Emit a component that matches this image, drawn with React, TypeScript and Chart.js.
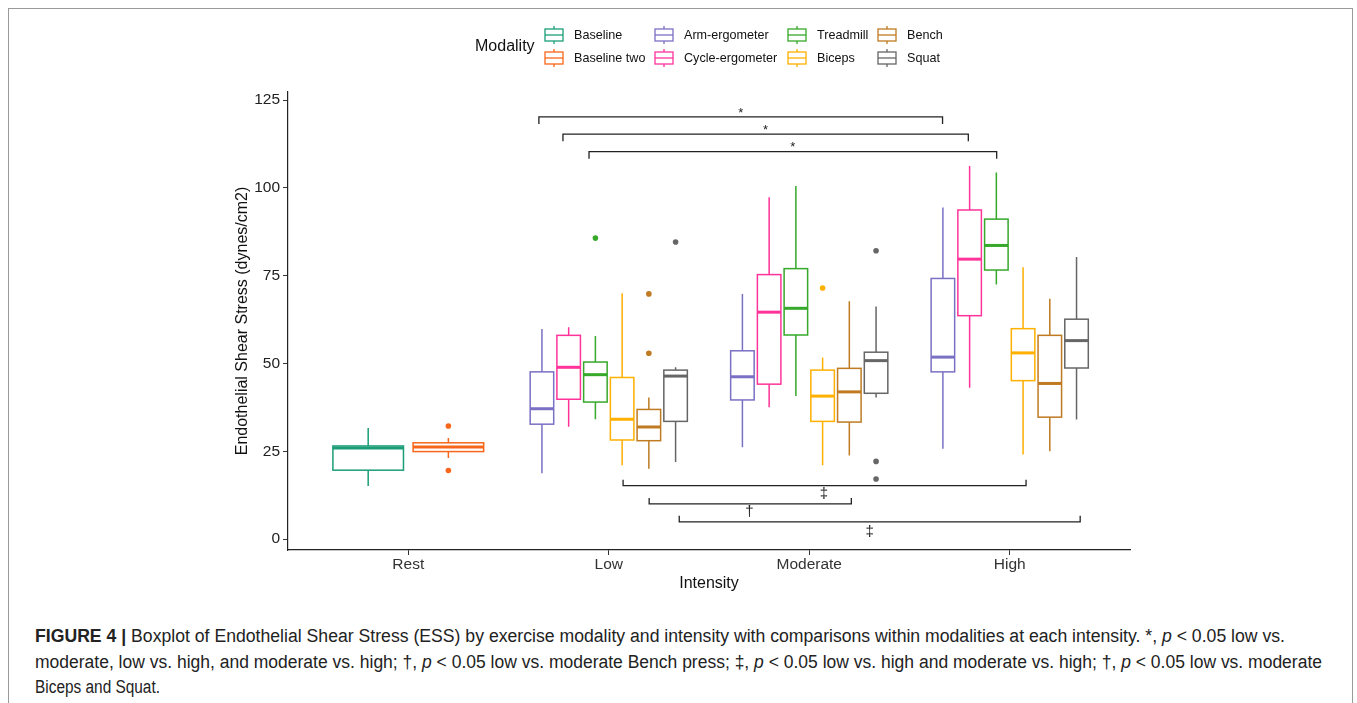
import React, { useEffect, useLayoutEffect, useRef } from 'react';
import { Chart, registerables } from 'chart.js';

Chart.register(...registerables);

// ---------------- data ----------------
const intensities = ['Rest', 'Low', 'Moderate', 'High'];
const modalities = ['Baseline', 'Baseline two', 'Arm-ergometer', 'Cycle-ergometer', 'Treadmill', 'Biceps', 'Bench', 'Squat'];
const colors = ['#1b9e77', '#f7661a', '#7a70c4', '#ff3399', '#36a82a', '#ffb000', '#bf7a22', '#666666'];
const yTicks = [0, 25, 50, 75, 100, 125];

// [lower whisker, Q1, median, Q3, upper whisker] for Rest, Low, Moderate, High
const baseline = [[15.1, 19.6, 25.9, 26.5, 31.6], null, null, null];
const baselineTwo = [[23.1, 24.9, 26.2, 27.4, 28.8], null, null, null];
const armErgometer = [null, [18.7, 32.7, 37.1, 47.6, 59.8], [26.1, 39.6, 46.2, 53.6, 69.8], [25.7, 47.6, 51.8, 74.2, 94.4]];
const cycleErgometer = [null, [32.0, 39.8, 48.9, 58.0, 60.3], [37.5, 44.1, 64.6, 75.3, 97.3], [43.1, 63.6, 79.7, 93.7, 106.2]];
const treadmill = [null, [34.1, 39.0, 46.8, 50.4, 57.8], [40.7, 58.1, 65.7, 77.0, 100.5], [72.5, 76.6, 83.6, 91.1, 104.4]];
const biceps = [null, [21.0, 28.2, 34.1, 46.0, 70.0], [21.0, 33.5, 40.7, 48.1, 51.7], [24.1, 45.1, 53.0, 59.9, 77.4]];
const bench = [null, [20.0, 28.0, 31.9, 36.9, 40.3], [23.8, 33.3, 41.9, 48.6, 67.7], [25.0, 34.7, 44.3, 58.0, 68.4]];
const squat = [null, [21.9, 33.5, 46.4, 48.1, 48.9], [40.3, 41.5, 50.8, 53.2, 66.2], [34.0, 48.7, 56.5, 62.6, 80.3]];

// outliers for Rest, Low, Moderate, High
const baselineOut = [[], [], [], []];
const baselineTwoOut = [[32.2, 19.5], [], [], []];
const armErgometerOut = [[], [], [], []];
const cycleErgometerOut = [[], [], [], []];
const treadmillOut = [[], [85.7], [], []];
const bicepsOut = [[], [], [71.5], []];
const benchOut = [[], [69.8, 52.9], [], []];
const squatOut = [[], [84.6], [82.1, 22.1, 17.1], []];

// significance brackets (x in intensity units, y in dynes/cm2)
const bracketFrom = [0.6515, 0.7715, 0.9015, 1.0715, 1.2015, 1.3515];
const bracketTo = [2.665, 2.7935, 2.935, 3.0815, 2.21, 3.3515];
const bracketY = [120.2, 115.3, 110.3, 15.2, 10.0, 4.9];
const bracketLabel = ['*', '*', '*', '‡', '†', '‡'];
const bracketLabelX = [1.658, 1.782, 1.918, 2.073, 1.702, 2.302];

const series = [baseline, baselineTwo, armErgometer, cycleErgometer, treadmill, biceps, bench, squat];
const outliers = [baselineOut, baselineTwoOut, armErgometerOut, cycleErgometerOut, treadmillOut, bicepsOut, benchOut, squatOut];

// ---------------- layout (pixels) ----------------
const FONT = '"Liberation Sans", Arial, Helvetica, sans-serif';
const legendKeyLeft = [545, 655, 788, 878];
const legendRowY = [35, 58];
const captionLineWidths = [1250, 1287, 125];

function dodge(m: number, i: number) {
  const present = series.map((s, k) => (s[i] ? k : -1)).filter((k) => k >= 0);
  const n = present.length;
  const j = present.indexOf(m);
  const slot = 0.8 / n;
  return { x: i + (j - (n - 1) / 2) * slot, half: slot * 0.44 };
}

const boxPlugin = {
  id: 'boxes',
  beforeDatasetsDraw(chart: any) {
    const ctx = chart.ctx;
    const xs = chart.scales.x;
    const ys = chart.scales.y;
    ctx.save();
    series.forEach((s, m) => {
      s.forEach((st: number[] | null, i: number) => {
        if (!st) return;
        const d = dodge(m, i);
        const cx = xs.getPixelForValue(d.x);
        const l = xs.getPixelForValue(d.x - d.half);
        const r = xs.getPixelForValue(d.x + d.half);
        const [lo, q1, med, q3, hi] = st.map((v) => ys.getPixelForValue(v));
        ctx.strokeStyle = colors[m];
        ctx.lineWidth = 1.5;
        ctx.beginPath();
        ctx.moveTo(cx, lo);
        ctx.lineTo(cx, q1);
        ctx.moveTo(cx, q3);
        ctx.lineTo(cx, hi);
        ctx.stroke();
        ctx.fillStyle = '#ffffff';
        ctx.fillRect(l, q3, r - l, q1 - q3);
        ctx.strokeRect(l, q3, r - l, q1 - q3);
        ctx.lineWidth = 3;
        ctx.beginPath();
        ctx.moveTo(l, med);
        ctx.lineTo(r, med);
        ctx.stroke();
      });
    });
    ctx.restore();
  },
  afterDraw(chart: any) {
    const ctx = chart.ctx;
    const xs = chart.scales.x;
    const ys = chart.scales.y;
    ctx.save();
    // brackets
    ctx.strokeStyle = '#222';
    ctx.fillStyle = '#222';
    ctx.lineWidth = 1.3;
    bracketY.forEach((yv, k) => {
      const x1 = xs.getPixelForValue(bracketFrom[k]);
      const x2 = xs.getPixelForValue(bracketTo[k]);
      const y = ys.getPixelForValue(yv);
      const top = yv > 60;
      const tick = top ? 7 : -6;
      ctx.beginPath();
      ctx.moveTo(x1, y + tick);
      ctx.lineTo(x1, y);
      ctx.lineTo(x2, y);
      ctx.lineTo(x2, y + tick);
      ctx.stroke();
      const lx = xs.getPixelForValue(bracketLabelX[k]);
      ctx.textAlign = 'center';
      ctx.textBaseline = 'middle';
      if (top) {
        ctx.font = `13px ${FONT}`;
        ctx.fillText(bracketLabel[k], lx, y - 4);
      } else {
        ctx.font = `15px ${FONT}`;
        ctx.fillText(bracketLabel[k], lx, y + (k === 5 ? 10 : 8));
      }
    });
    // legend
    ctx.fillStyle = '#111';
    ctx.textAlign = 'left';
    ctx.textBaseline = 'middle';
    ctx.font = `16px ${FONT}`;
    ctx.fillText('Modality', 475, 47);
    ctx.font = `12.6px ${FONT}`;
    modalities.forEach((name, m) => {
      const col = Math.floor(m / 2);
      const row = m % 2;
      const kx = legendKeyLeft[col];
      const ky = legendRowY[row];
      ctx.strokeStyle = colors[m];
      ctx.lineWidth = 1.3;
      ctx.beginPath();
      ctx.moveTo(kx + 9, ky - 9);
      ctx.lineTo(kx + 9, ky - 6);
      ctx.moveTo(kx + 9, ky + 6);
      ctx.lineTo(kx + 9, ky + 9);
      ctx.stroke();
      ctx.strokeRect(kx, ky - 6, 18, 12);
      ctx.beginPath();
      ctx.moveTo(kx, ky);
      ctx.lineTo(kx + 18, ky);
      ctx.stroke();
      ctx.fillStyle = '#111';
      ctx.fillText(name, kx + 29, ky + 0.5);
    });
    ctx.restore();
  },
};

export default function App() {
  const ref = useRef<HTMLCanvasElement>(null);
  const lineRefs = [useRef<HTMLSpanElement>(null), useRef<HTMLSpanElement>(null), useRef<HTMLSpanElement>(null)];

  useLayoutEffect(() => {
    lineRefs.forEach((r, k) => {
      const el = r.current;
      if (!el) return;
      el.style.transform = 'none';
      const w = el.getBoundingClientRect().width;
      if (w > 0) el.style.transform = `scaleX(${captionLineWidths[k] / w})`;
    });
  }, []);

  useEffect(() => {
    const canvas = ref.current;
    if (!canvas) return;
    Chart.defaults.font.family = FONT;
    const datasets = modalities.map((name, m) => ({
      label: name,
      data: outliers[m].flatMap((vals: number[], i: number) =>
        vals.map((v) => ({ x: dodge(m, i).x, y: v }))
      ),
      backgroundColor: colors[m],
      borderColor: colors[m],
      borderWidth: 0,
      pointRadius: 2.8,
    }));
    const axisCommon = {
      grid: { display: true, drawOnChartArea: false, drawTicks: true, tickLength: 5, color: '#333', lineWidth: 1 },
      border: { display: true, color: '#222', width: 1.2 },
    };
    const chart = new Chart(canvas, {
      type: 'scatter',
      data: { datasets },
      options: {
        animation: false,
        responsive: false,
        devicePixelRatio: 1,
        layout: { padding: { left: 229, top: 92, right: 227, bottom: 3 } },
        plugins: { legend: { display: false }, tooltip: { enabled: false } },
        scales: {
          x: {
            type: 'linear',
            min: -0.6,
            max: 3.6,
            afterBuildTicks: (s: any) => {
              s.ticks = intensities.map((_, i) => ({ value: i }));
            },
            afterFit: (s: any) => {
              s.height = 47;
            },
            ticks: {
              callback: (v: any) => intensities[v] ?? '',
              font: { size: 15.5 },
              color: '#333',
              padding: 0,
              maxRotation: 0,
              autoSkip: false,
            },
            ...axisCommon,
            title: { display: true, text: 'Intensity', font: { size: 16 }, color: '#111', padding: { top: 4, bottom: 4 } },
          },
          y: {
            type: 'linear',
            min: -3.13,
            max: 127.3,
            afterBuildTicks: (s: any) => {
              s.ticks = yTicks.map((v) => ({ value: v }));
            },
            afterFit: (s: any) => {
              s.width = 59;
            },
            ticks: { font: { size: 15.5 }, color: '#222', padding: 3 },
            ...axisCommon,
            title: {
              display: true,
              text: 'Endothelial Shear Stress (dynes/cm2)',
              font: { size: 16 },
              color: '#111',
              padding: { top: 4, bottom: 4 },
            },
          },
        },
      },
      plugins: [boxPlugin],
    } as any);
    return () => chart.destroy();
  }, []);

  const lineStyle: React.CSSProperties = {
    display: 'inline-block',
    transformOrigin: 'left center',
    whiteSpace: 'nowrap',
  };

  return (
    <div style={{ position: 'fixed', left: 0, top: 0, width: 1357, height: 703, overflow: 'hidden', background: '#fff' }}>
      <div
        style={{
          position: 'absolute',
          left: 8,
          top: 8,
          width: 1345,
          height: 720,
          border: '1px solid #9a9a9a',
          boxSizing: 'border-box',
        }}
      />
      <canvas
        ref={ref}
        width={1357}
        height={600}
        style={{ position: 'absolute', left: 0, top: 0, width: 1357, height: 600 }}
      />
      <div
        style={{
          position: 'absolute',
          left: 35,
          top: 624,
          width: 1600,
          fontFamily: '"Liberation Sans Narrow", "Arial Narrow", "Liberation Sans", sans-serif',
          fontSize: 18,
          lineHeight: '25.5px',
          color: '#222',
          whiteSpace: 'nowrap',
        }}
      >
        <span ref={lineRefs[0]} style={lineStyle}>
          <b>FIGURE 4 |</b> Boxplot of Endothelial Shear Stress (ESS) by exercise modality and intensity with
          comparisons within modalities at each intensity. *, <i>p</i> &lt; 0.05 low vs.
        </span>
        <br />
        <span ref={lineRefs[1]} style={lineStyle}>
          moderate, low vs. high, and moderate vs. high; †, <i>p</i> &lt; 0.05 low vs. moderate Bench press; ‡,{' '}
          <i>p</i> &lt; 0.05 low vs. high and moderate vs. high; †, <i>p</i> &lt; 0.05 low vs. moderate
        </span>
        <br />
        <span ref={lineRefs[2]} style={lineStyle}>
          Biceps and Squat.
        </span>
      </div>
    </div>
  );
}
